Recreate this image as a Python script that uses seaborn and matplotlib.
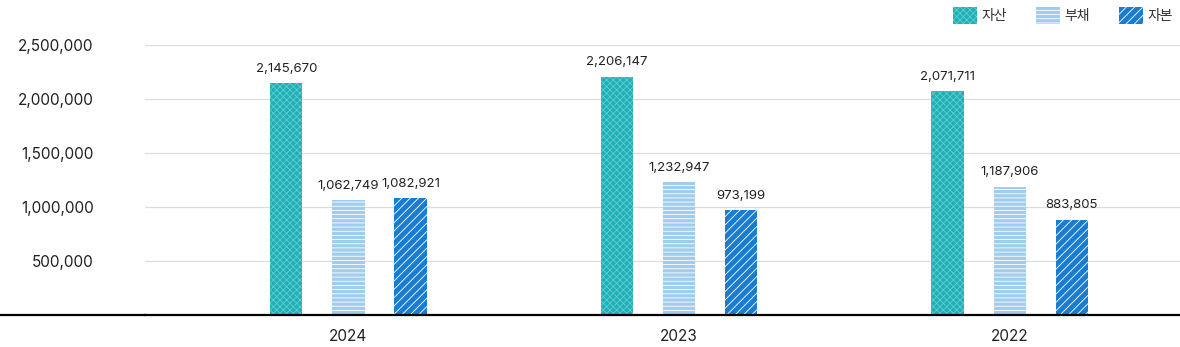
import matplotlib
matplotlib.use("Agg")
import matplotlib.pyplot as plt
import seaborn as sns
import pandas as pd
from matplotlib.patches import Patch
from matplotlib.lines import Line2D
from matplotlib.ticker import FuncFormatter

years = ["2024", "2023", "2022"]
series = ["자산", "부채", "자본"]
assets = [2145670, 2206147, 2071711]
liabilities = [1062749, 1232947, 1187906]
equity = [1082921, 973199, 883805]
yticks = [500000, 1000000, 1500000, 2000000, 2500000]

colors = {"자산": "#22afb4", "부채": "#9fcdee", "자본": "#1a7cd0"}
hatch_colors = {"자산": "#5ccdd1", "부채": "#ffffff", "자본": "#ffffff"}
hatches = {"자산": "xxxxx", "부채": "----", "자본": "////"}

sns.set_theme(style="white")
plt.rcParams["font.family"] = ["Inter", "Noto Sans CJK KR", "DejaVu Sans"]
plt.rcParams["hatch.linewidth"] = 0.6

rows = []
for i, y in enumerate(years):
    rows.append({"year": y, "type": series[0], "value": assets[i]})
    rows.append({"year": y, "type": series[1], "value": liabilities[i]})
    rows.append({"year": y, "type": series[2], "value": equity[i]})
df = pd.DataFrame(rows)

fig = plt.figure(figsize=(11.8, 3.47), dpi=100)
ax = fig.add_axes([145 / 1180, 32 / 347, 1035 / 1180, 270 / 347])

sns.barplot(data=df, x="year", y="value", hue="type", order=years,
            hue_order=series, palette=colors, width=0.564, gap=0.48,
            linewidth=0, saturation=1, ax=ax, legend=False)

for cont, s in zip(ax.containers, series):
    for p in cont:
        p.set_hatch(hatches[s])
        p.set_edgecolor(hatch_colors[s])
        p.set_linewidth(0)
    ax.bar_label(cont, labels=[f"{v:,.0f}" for v in cont.datavalues],
                 padding=6, fontsize=9.5, color="#222222")

ax.set_ylim(0, 2500000)
ax.set_xlim(-0.615, 2.515)
ax.set_yticks(yticks)
ax.yaxis.set_major_formatter(FuncFormatter(lambda v, p: f"{v:,.0f}"))
ax.tick_params(axis="y", length=0, pad=37, labelsize=11, labelcolor="#222222")
ax.tick_params(axis="x", length=0, pad=10, labelsize=11, labelcolor="#222222")
ax.set_xlabel("")
ax.set_ylabel("")
ax.grid(axis="y", color="#dddddd", linewidth=0.9)
ax.set_axisbelow(True)
for sp in ["top", "right", "left"]:
    ax.spines[sp].set_visible(False)
ax.spines["bottom"].set_color("black")
ax.spines["bottom"].set_linewidth(1.6)

y0 = 32 / 347
fig.add_artist(Line2D([0, 145 / 1180 + 0.001], [y0, y0], transform=fig.transFigure,
                      color="black", linewidth=1.6))

handles = [Patch(facecolor=colors[s], edgecolor=hatch_colors[s], hatch=hatches[s],
                 linewidth=0, label=s) for s in series]
fig.legend(handles=handles, loc="upper right", bbox_to_anchor=(1.005, 1.015),
           ncol=3, frameon=False, fontsize=10, handlelength=1.7,
           handleheight=1.45, handletextpad=0.35, columnspacing=2.1,
           labelcolor="#333333")

fig.savefig("out.png", dpi=100)
